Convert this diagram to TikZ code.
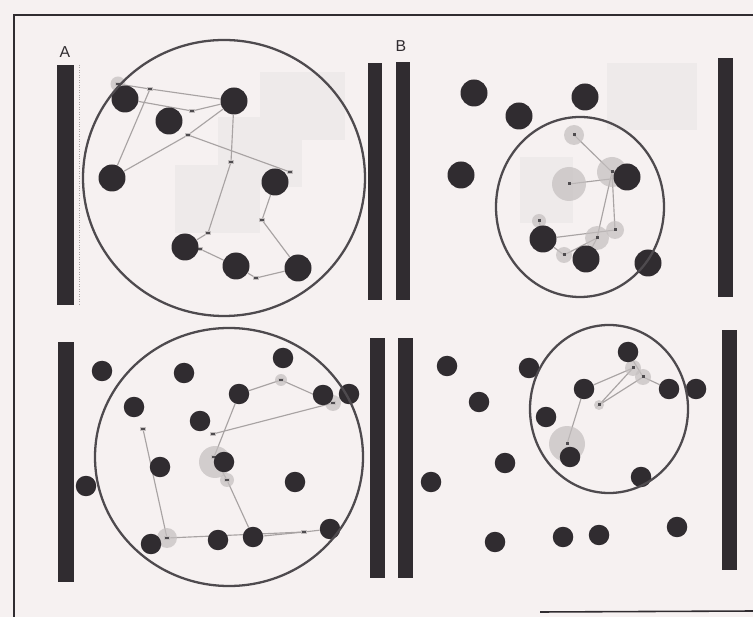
\documentclass[tikz,border=0pt]{standalone}
\usepackage{fontspec}
\setsansfont{Liberation Sans}
\usetikzlibrary{backgrounds}

\definecolor{pagebg}{RGB}{246,241,241}
\definecolor{ghost}{RGB}{238,234,234}
\definecolor{ink}{RGB}{48,44,48}
\definecolor{ringc}{RGB}{78,74,78}
\definecolor{linkc}{RGB}{168,163,163}
\definecolor{haloc}{RGB}{196,191,191}

\begin{document}
\begin{tikzpicture}[
      x=0.02cm, y=-0.02cm,
      dot/.style={circle, fill=ink, inner sep=0pt, minimum size=0.54cm},
      smalldot/.style={dot, minimum size=0.41cm},
      halo/.style={circle, fill=haloc, fill opacity=0.7, inner sep=0pt, minimum size=#1},
      spot/.style={rectangle, fill=ink!85, draw=haloc, line width=0.6pt, inner sep=0pt, minimum width=0.10cm, minimum height=0.06cm},
      link/.style={draw=linkc, line width=0.65pt},
      ring/.style={draw=ringc, line width=1.3pt},
      bar/.style={fill=ink},
      panel/.style={font=\sffamily\small, text=ink}
    ]
    \useasboundingbox (0,0) rectangle (753,617);
    \begin{scope}[on background layer]
      \fill[pagebg] (0,0) rectangle (753,617);
      % faint squares behind the dots
      \fill[ghost] (260,72) rectangle (345,140);
      \fill[ghost] (218,117) rectangle (302,187);
      \fill[ghost] (175,165) rectangle (260,233);
      \fill[ghost] (607,63) rectangle (697,130);
      \fill[ghost] (520,157) rectangle (573,223);
    \end{scope}

    % frame
    \draw[ink, line width=0.9pt] (753,15) -- (14,15) -- (14,617);
    \draw[ink, line width=0.9pt] (540,612) -- (753,611);

    % --- A, upper panel
    \node[halo=0.3cm] (ah1) at (118,84) {};
    \node[spot] (am1) at (118,84) {};
    \node[spot] (am2) at (150,89) {};
    \node[spot] (am3) at (192,111) {};
    \node[spot] (am4) at (188,135) {};
    \node[spot] (am5) at (231,162) {};
    \node[spot] (am6) at (290,172) {};
    \node[spot] (am7) at (262,220) {};
    \node[spot] (am8) at (208,233) {};
    \node[spot] (am9) at (256,278) {};
    \node[spot] (am10) at (200,249) {};
    \foreach \i/\x/\y in {1/125/99, 2/169/121, 3/234/101, 4/112/178,
                          5/275/182, 6/185/247, 7/236/266, 8/298/268}
      \node[dot] (at\i) at (\x,\y) {};

    % --- B, upper panel
    \node[halo=0.40cm] (bh1) at (574,135) {};
    \node[halo=0.68cm] (bh2) at (569,184) {};
    \node[halo=0.60cm] (bh3) at (612,172) {};
    \node[halo=0.28cm] (bh4) at (539,221) {};
    \node[halo=0.36cm] (bh5) at (615,230) {};
    \node[halo=0.48cm] (bh6) at (597,238) {};
    \node[halo=0.32cm] (bh7) at (564,255) {};
    \foreach \n in {1,...,7}
      \node[spot, draw=none, minimum width=0.06cm] (bm\n) at (bh\n.center) {};
    \foreach \i/\x/\y in {1/474/93, 2/519/116, 3/585/97, 4/461/175,
                          5/627/177, 6/543/239, 7/586/259, 8/648/263}
      \node[dot] (bt\i) at (\x,\y) {};

    % --- A, lower panel
    \node[halo=0.64cm] (abh8) at (215,462) {};
    \node[halo=0.24cm] (abh1) at (281,380) {};
    \node[halo=0.32cm] (abh2) at (333,403) {};
    \node[halo=0.28cm] (abh5) at (227,480) {};
    \node[halo=0.40cm] (abh6) at (167,538) {};
    \node[spot] (abm1) at (281,380) {};
    \node[spot] (abm2) at (333,403) {};
    \node[spot] (abm3) at (213,434) {};
    \node[spot] (abm4) at (143,429) {};
    \node[spot] (abm5) at (227,480) {};
    \node[spot] (abm6) at (167,538) {};
    \node[spot] (abm7) at (304,532) {};
    \node[spot] (abm8) at (214,457) {};
    \foreach \i/\x/\y in {1/102/371, 2/184/373, 3/283/358, 4/134/407,
                          5/239/394, 6/323/395, 7/349/394, 8/200/421,
                          9/160/467, 10/224/462, 11/86/486, 12/295/482,
                          13/151/544, 14/218/540, 15/253/537, 16/330/529}
      \node[smalldot] (ab\i) at (\x,\y) {};

    % --- B, lower panel
    \node[halo=0.72cm] (bbh1) at (567,444) {};
    \node[halo=0.20cm] (bbh2) at (599,405) {};
    \node[halo=0.32cm] (bbh3) at (633,368) {};
    \node[halo=0.32cm] (bbh4) at (643,377) {};
    \foreach \n in {1,...,4}
      \node[spot, draw=none, minimum width=0.06cm] (bbm\n) at (bbh\n.center) {};
    \foreach \i/\x/\y in {1/447/366, 2/529/368, 3/628/352, 4/479/402,
                          5/584/389, 6/669/389, 7/696/389, 8/546/417,
                          9/505/463, 10/570/457, 11/431/482, 12/641/477,
                          13/495/542, 14/563/537, 15/599/535, 16/677/527}
      \node[smalldot] (bb\i) at (\x,\y) {};

    % connections
    \begin{scope}[on background layer]
      \draw[link] (am2.center) -- (at3);
      \draw[link] (at1) -- (am3.center) -- (at3);
      \draw[link] (am1.center) -- (am2.center) -- (at4);
      \draw[link] (at4) -- (am4.center) -- (at3);
      \draw[link] (am4.center) -- (am6.center);
      \draw[link] (at3) -- (am5.center) -- (am8.center) -- (at6);
      \draw[link] (at5) -- (am7.center) -- (at8);
      \draw[link] (at6) -- (am10.center) -- (at7);
      \draw[link] (at7) -- (am9.center) -- (at8);

      \draw[link] (bm1.center) -- (bm3.center);
      \draw[link] (bm2.center) -- (bt5);
      \draw[link] (bm3.center) -- (bm5.center) -- (bt6);
      \draw[link] (bm3.center) -- (bm6.center) -- (bt7);
      \draw[link] (bm4.center) -- (bt6) -- (bm7.center) -- (bm6.center);

      \draw[link] (abm4.center) -- (abm6.center) -- (abm7.center) -- (ab16);
      \draw[link] (ab15) -- (abm7.center);
      \draw[link] (abm1.center) -- (ab5) -- (abm8.center) -- (abm5.center) -- (ab15);
      \draw[link] (abm3.center) -- (abm2.center);
      \draw[link] (abm1.center) -- (abm2.center);

      \draw[link] (bb5) -- (bbm3.center) -- (bbm2.center) -- (bbm4.center) -- (bb6);
      \draw[link] (bb3) -- (bbm4.center);
      \draw[link] (bb5) -- (bbm1.center);
    \end{scope}

    % outer rings
    \draw[ring] (224,178) ellipse [x radius=141, y radius=138];
    \draw[ring] (580,207) ellipse [x radius=84, y radius=90];
    \draw[ring] (229,457) ellipse [x radius=134, y radius=129];
    \draw[ring] (609,409) ellipse [x radius=79, y radius=84];

    % bars
    \fill[bar] (57,65) rectangle (74,305);
    \draw[linkc, densely dotted] (79,65) -- (79,305);
    \fill[bar] (368,63) rectangle (382,300);
    \fill[bar] (396,62) rectangle (410,300);
    \fill[bar] (718,58) rectangle (733,297);
    \fill[bar] (58,342) rectangle (74,582);
    \fill[bar] (370,338) rectangle (385,578);
    \fill[bar] (398,338) rectangle (413,578);
    \fill[bar] (722,330) rectangle (737,570);

    \node[panel] (labA) at (65,52) {A};
    \node[panel] (labB) at (401,46) {B};
  \end{tikzpicture}
\end{document}
